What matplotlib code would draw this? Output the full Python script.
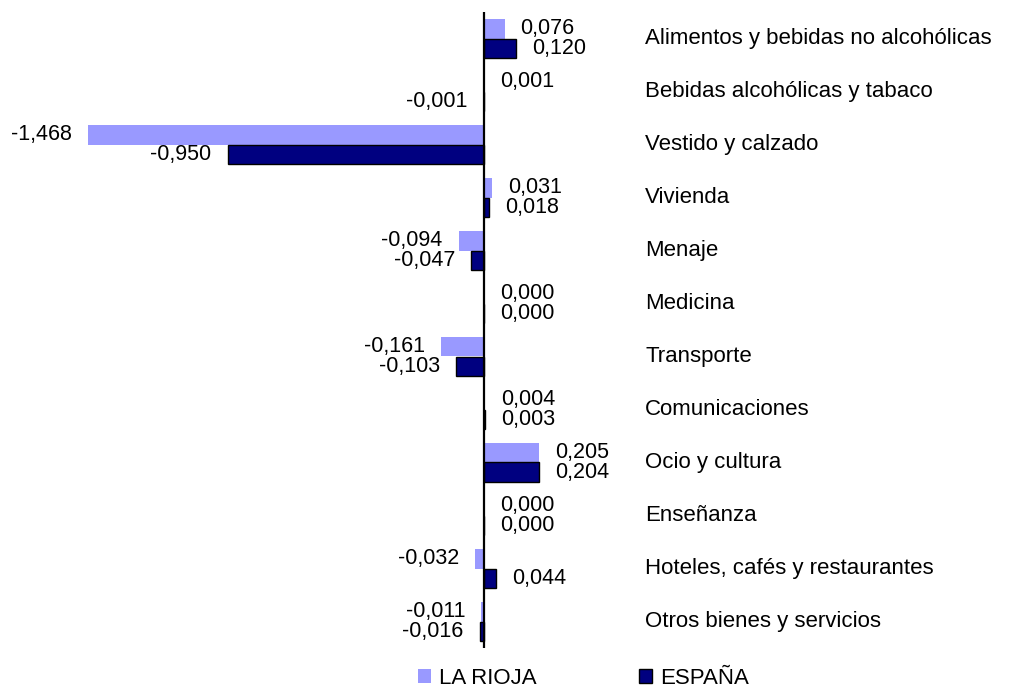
import matplotlib.pyplot as plt
import matplotlib.transforms as mtransforms
import numpy as np

plt.rcParams['font.family'] = ['Liberation Sans', 'DejaVu Sans']

categories = ['Alimentos y bebidas no alcohólicas', 'Bebidas alcohólicas y tabaco',
              'Vestido y calzado', 'Vivienda', 'Menaje', 'Medicina', 'Transporte',
              'Comunicaciones', 'Ocio y cultura', 'Enseñanza',
              'Hoteles, cafés y restaurantes', 'Otros bienes y servicios']
la_rioja = [0.076, 0.001, -1.468, 0.031, -0.094, 0.000, -0.161, 0.004, 0.205, 0.000, -0.032, -0.011]
espana = [0.120, -0.001, -0.950, 0.018, -0.047, 0.000, -0.103, 0.003, 0.204, 0.000, 0.044, -0.016]

FS = 15.5
PAD = 16 / 270  # label gap from bar end, in data units

fig = plt.figure(figsize=(10.15, 6.9), dpi=100)
ax = fig.add_axes([0, 42 / 690, 1, 636 / 690])
ax.set_xlim(-484 / 270, 531 / 270)
ax.set_ylim(len(categories) - 0.5, -0.5)
ax.axis('off')

y = np.arange(len(categories))
h = 0.377
ax.barh(y - h / 2, la_rioja, height=h, color='#9999FF', label='LA RIOJA')
ax.barh(y + h / 2, espana, height=h, color='#000080', edgecolor='black', linewidth=1, label='ESPAÑA')
ax.axvline(0, color='black', lw=1.6)

def fmt(v):
    return '{:.3f}'.format(v).replace('.', ',')

for yy, vals in ((y - h / 2, la_rioja), (y + h / 2, espana)):
    for yi, v in zip(yy, vals):
        if v >= 0:
            ax.text(v + PAD, yi, fmt(v), ha='left', va='center', fontsize=FS)
        else:
            ax.text(v - PAD, yi, fmt(v), ha='right', va='center', fontsize=FS)

# category names sit to the right of the bars
trans = mtransforms.blended_transform_factory(fig.transFigure, ax.transData)
for yi, c in zip(y, categories):
    ax.text(645 / 1015, yi, c, transform=trans, ha='left', va='center', fontsize=16)

fig.legend(loc='center', bbox_to_anchor=(0.575, 0.017), ncol=2, frameon=False,
           fontsize=16, handlelength=0.6, handleheight=0.6, handletextpad=0.35,
           columnspacing=4.6, borderpad=0, borderaxespad=0)

fig.savefig('out.png', dpi=100)
